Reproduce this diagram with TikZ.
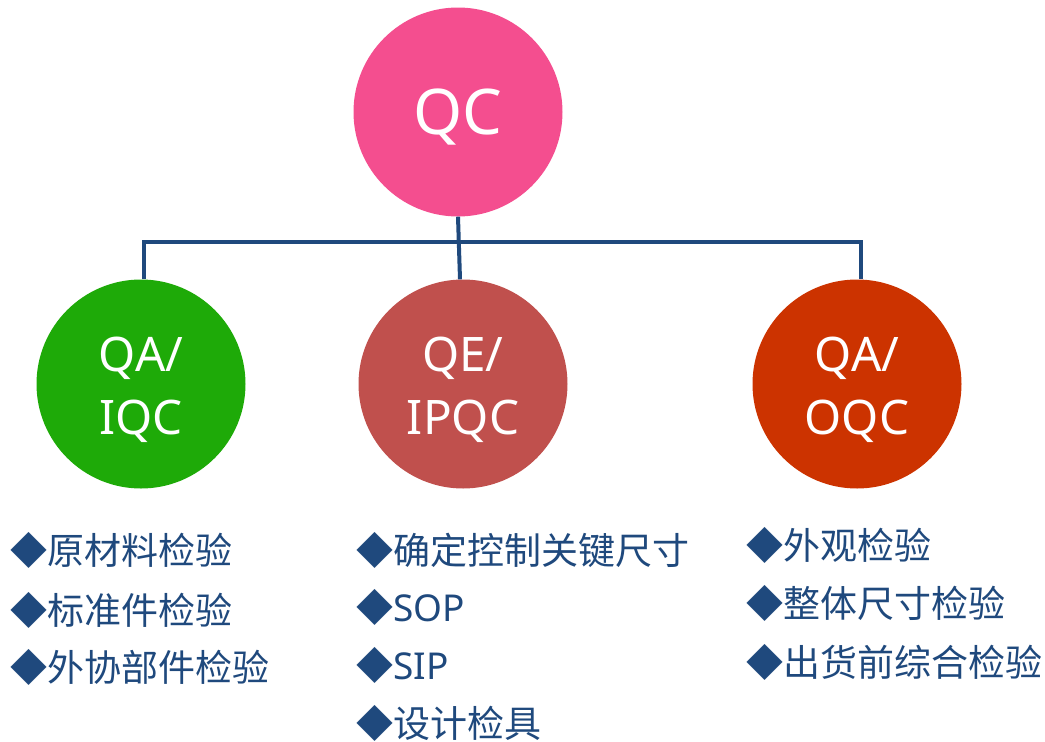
\documentclass[tikz,border=0pt]{standalone}
\usepackage{fontspec}
\setmainfont{Noto Sans}
\newfontfamily\cjk{Noto Sans CJK SC}
\usetikzlibrary{positioning}
\definecolor{qcpink}{RGB}{244, 78, 143}
\definecolor{iqcgreen}{RGB}{30, 170, 8}
\definecolor{ipqcred}{RGB}{192, 80, 77}
\definecolor{oqcred}{RGB}{204, 51, 0}
\definecolor{linkblue}{RGB}{31, 73, 125}

\begin{document}
\begin{tikzpicture}[x=1pt, y=-1pt,
        rolenode/.style={circle, minimum size=209pt, inner sep=0pt},
        roletext/.style={align=center, text=white, inner sep=0pt, font=\fontsize{47.6}{63}\selectfont},
        link/.style={draw=linkblue, line width=4pt},
        itemline/.style={anchor=base west, inner sep=0pt, text=linkblue, font=\fontsize{37}{44}\selectfont\cjk}
    ]
        \useasboundingbox (0,0) rectangle (1045,742);

        % Circles
        \node[rolenode, fill=qcpink] (qc) at (458,112) {};
        \node[rolenode, fill=iqcgreen] (iqc) at (141,384) {};
        \node[rolenode, fill=ipqcred] (ipqc) at (463,384) {};
        \node[rolenode, fill=oqcred] (oqc) at (857,384) {};

        % Circle texts
        \node[roletext, font=\fontsize{63}{70}\selectfont] (qctext) at ([yshift=-5pt]qc.center) {QC};
        \node[roletext] (iqctext) at ([yshift=-6pt]iqc.center) {QA/\\IQC};
        \node[roletext] (ipqctext) at ([yshift=-6pt]ipqc.center) {QE/\\IPQC};
        \node[roletext] (oqctext) at ([yshift=-6pt]oqc.center) {QA/\\OQC};

        % Connectors
        \draw[link] (qc.south) -- ([xshift=-3pt]ipqc.north);
        \draw[link] ([xshift=3pt]iqc.north) -- ++(0,-37) -| ([xshift=4pt]oqc.north);

        % IQC items
        \node[itemline] (iqc1) at (10,564) {◆原材料检验};
        \node[itemline] (iqc2) at (10,624) {◆标准件检验};
        \node[itemline] (iqc3) at (10,681) {◆外协部件检验};

        % IPQC items
        \node[itemline] (ipqc1) at (356,564) {◆确定控制关键尺寸};
        \node[itemline] (ipqc2) at (356,621) {◆\rmfamily SOP};
        \node[itemline] (ipqc3) at (356,679) {◆\rmfamily SIP};
        \node[itemline] (ipqc4) at (356,737) {◆设计检具};

        % OQC items
        \node[itemline] (oqc1) at (746,559) {◆外观检验};
        \node[itemline] (oqc2) at (746,617) {◆整体尺寸检验};
        \node[itemline] (oqc3) at (746,676) {◆出货前综合检验};
    \end{tikzpicture}
\end{document}
